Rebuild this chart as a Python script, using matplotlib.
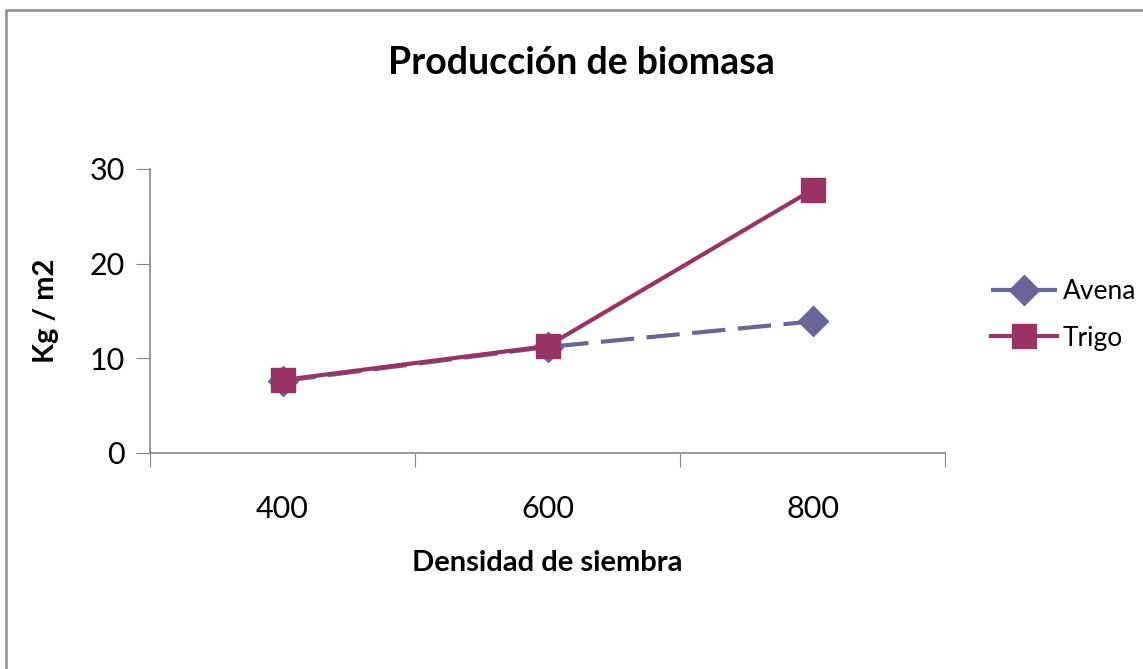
import matplotlib.pyplot as plt
from matplotlib.patches import Rectangle

plt.rcParams['font.family'] = ['Lato', 'DejaVu Sans']

# data
categories = ['400', '600', '800']
avena = [7.6, 11.2, 13.9]
trigo = [7.7, 11.3, 27.8]

fig = plt.figure(figsize=(11.43, 6.69), dpi=100)
ax = fig.add_axes([150 / 1143, 1 - 453 / 669, 795 / 1143, 284 / 669])

x = list(range(len(categories)))
ax.plot(x, avena, color='#666699', lw=3, dashes=(8, 3), marker='D', ms=15,
        label='Avena', zorder=3)
ax.plot(x, trigo, color='#993366', lw=3, marker='s', ms=17,
        label='Trigo', zorder=4)

ax.set_xlim(-0.5, 2.5)
ax.set_ylim(0, 30)
ax.set_yticks([0, 10, 20, 30])

# category boundaries get the tick marks, labels sit between them
ax.set_xticks([-0.5, 0.5, 1.5, 2.5])
ax.set_xticklabels([])
ax.set_xticks(x, minor=True)
ax.set_xticklabels(categories, minor=True)
ax.tick_params(axis='x', which='major', length=10, color='#868686', direction='out')
ax.tick_params(axis='x', which='minor', length=0, pad=30, labelsize=22)
ax.tick_params(axis='y', length=10, color='#868686', labelsize=22, pad=8)

for s in ['top', 'right']:
    ax.spines[s].set_visible(False)
for s in ['left', 'bottom']:
    ax.spines[s].set_color('#868686')
    ax.spines[s].set_linewidth(1.2)

# title is centred on the whole chart area, not the plot area
fig.text(581 / 1143, 1 - 63 / 669, 'Producción de biomasa', fontsize=27,
         fontweight='bold', ha='center', va='center')
ax.set_xlabel('Densidad de siembra', fontsize=21, fontweight='bold', labelpad=20)
ax.set_ylabel('Kg / m2', fontsize=21, fontweight='bold', labelpad=22)

ax.legend(loc='center left', bbox_to_anchor=(978 / 1143, 1 - 315 / 669),
          bbox_transform=fig.transFigure, frameon=False, fontsize=19,
          handlelength=2.5, handletextpad=0.2, labelspacing=0.8, borderpad=0)

# outer chart border
fig.patches.append(Rectangle((6 / 1143, -0.2), 1.5, 1.2 - 10 / 669,
                             transform=fig.transFigure, fill=False,
                             edgecolor='#8c8c8c', lw=1.8))

fig.savefig('out.png', dpi=100)
